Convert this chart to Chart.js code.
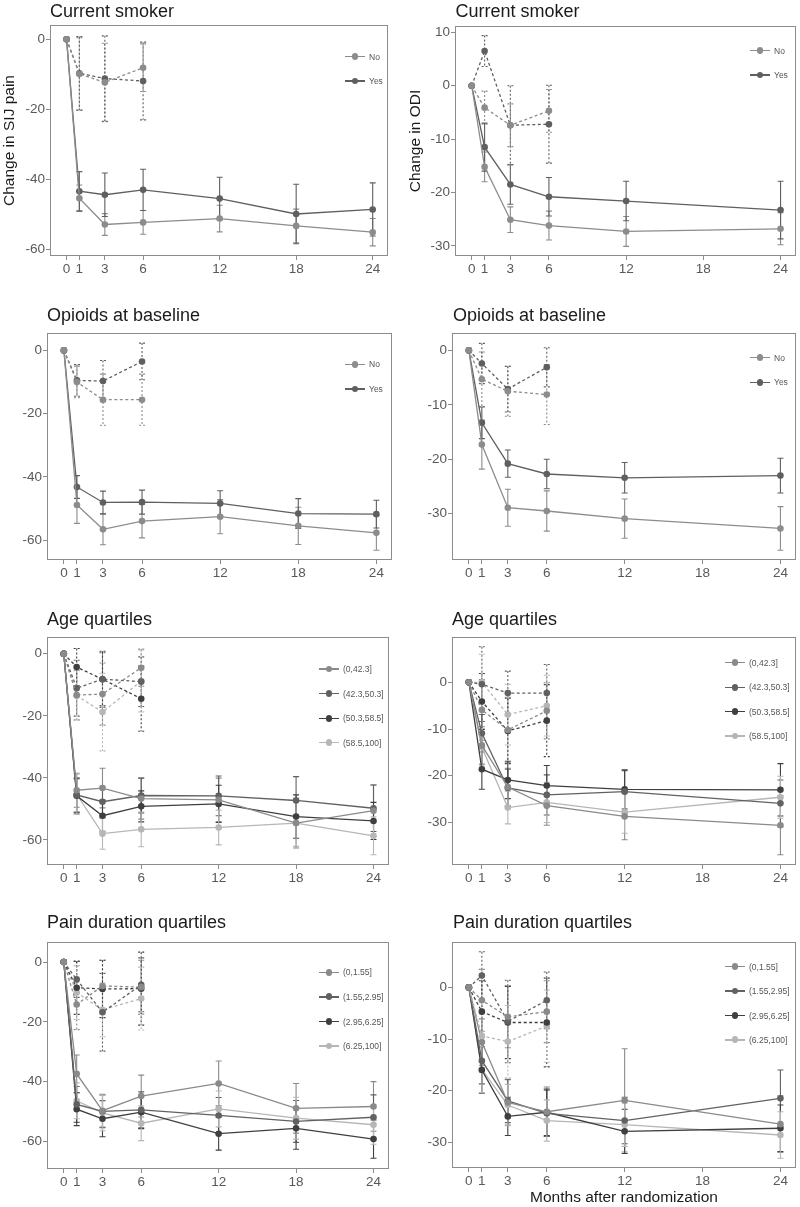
<!DOCTYPE html>
<html>
<head>
<meta charset="utf-8">
<script src="https://cdn.jsdelivr.net/npm/chart.js@4.4.1/dist/chart.umd.min.js"></script>
<style>
  body { margin: 0; background: #fff; font-family: "Liberation Sans", Arial, sans-serif; }
  #page { position: relative; width: 800px; height: 1207px; overflow: hidden; }
  #page canvas { position: absolute; }
  .title { position: absolute; font-size: 18px; line-height: 18px; color: #1a1a1a; white-space: nowrap; }
  .key { position: absolute; height: 12px; display: flex; align-items: center; font-size: 8.5px; color: #555; white-space: nowrap; }
  .key i { position: relative; display: inline-block; width: 20px; height: 12px; margin-right: 4px; }
  .key i:before { content: ""; position: absolute; left: 0; right: 0; top: 5.4px; height: 1.3px; background: currentColor; }
  .key i:after { content: ""; position: absolute; left: 6.6px; top: 2.6px; width: 6.8px; height: 6.8px; border-radius: 50%; background: currentColor; }
</style>
</head>
<body>
<div id="page"></div>
<script>
// months after randomization
const monthsSij = [0, 1, 3, 6, 12, 18, 24];
const monthsOdi = [0, 1, 3, 6, 12, 24];
const monthsCtl = [0, 1, 3, 6];
const xTicks = [0, 1, 3, 6, 12, 18, 24];

// y tick labels
const yTicksSij = [-60, -40, -20, 0];
const yTicksOdiTop = [-30, -20, -10, 0, 10];
const yTicksOdi = [-30, -20, -10, 0];

// groups
const yesNo = ['No', 'Yes'];
const ageGroups = ['(0,42.3]', '(42.3,50.3]', '(50.3,58.5]', '(58.5,100]'];
const durationGroups = ['(0,1.55]', '(1.55,2.95]', '(2.95,6.25]', '(6.25,100]'];

// Current smoker - SIJ pain (solid = treated, dashed = control)
const smokeSijTrt = [
  [0, -45.4, -52.9, -52.3, -51.2, -53.3, -55.1],
  [0, -43.4, -44.4, -43.0, -45.5, -49.9, -48.6]
];
const smokeSijTrtSe = [
  [0, 3.8, 3.1, 3.4, 3.8, 4.8, 3.9],
  [0, 5.6, 6.2, 5.9, 6.1, 8.5, 7.6]
];
const smokeSijCtl = [
  [0, -9.9, -12.3, -8.1],
  [0, -9.7, -11.2, -11.9]
];
const smokeSijCtlSe = [
  [0, 10.4, 11.2, 6.8],
  [0, 10.5, 12.2, 11.1]
];

// Current smoker - ODI
const smokeOdiTrt = [
  [0, -15.2, -25.1, -26.2, -27.3, -26.8],
  [0, -11.5, -18.5, -20.8, -21.6, -23.3]
];
const smokeOdiTrtSe = [
  [0, 2.8, 2.4, 2.7, 2.8, 3.0],
  [0, 4.5, 3.7, 3.6, 3.7, 5.4]
];
const smokeOdiCtl = [
  [0, -4.1, -7.4, -4.7],
  [0, 6.5, -7.4, -7.2]
];
const smokeOdiCtlSe = [
  [0, 3.1, 4.0, 4.0],
  [0, 2.9, 7.4, 7.3]
];

// Opioids at baseline - SIJ pain
const opioidSijTrt = [
  [0, -48.9, -56.6, -54.0, -52.6, -55.5, -57.7],
  [0, -43.2, -48.1, -48.0, -48.4, -51.6, -51.8]
];
const opioidSijTrtSe = [
  [0, 5.8, 4.9, 5.3, 5.4, 5.9, 5.5],
  [0, 3.6, 3.6, 3.8, 4.0, 4.7, 4.4]
];
const opioidSijCtl = [
  [0, -10.0, -15.6, -15.6],
  [0, -9.5, -9.7, -3.5]
];
const opioidSijCtlSe = [
  [0, 5.0, 8.1, 8.1],
  [0, 5.0, 6.5, 5.8]
];

// Opioids at baseline - ODI
const opioidOdiTrt = [
  [0, -17.3, -28.9, -29.5, -30.9, -32.7],
  [0, -13.3, -20.8, -22.7, -23.4, -23.0]
];
const opioidOdiTrtSe = [
  [0, 4.5, 3.4, 3.7, 3.6, 4.0],
  [0, 2.9, 2.5, 2.7, 2.8, 3.2]
];
const opioidOdiCtl = [
  [0, -5.3, -7.5, -8.1],
  [0, -2.4, -7.1, -3.1]
];
const opioidOdiCtlSe = [
  [0, 5.0, 4.6, 5.5],
  [0, 3.7, 4.2, 3.6]
];

// Age quartiles - SIJ pain
const ageSijTrt = [
  [0, -44.0, -43.3, -46.7, -47.1, -54.6, -50.6],
  [0, -45.5, -47.7, -45.7, -45.8, -47.3, -49.8],
  [0, -45.8, -52.2, -49.2, -48.4, -52.5, -53.9],
  [0, -45.3, -58.0, -56.6, -56.0, -54.6, -58.7]
];
const ageSijTrtSe = [
  [0, 5.5, 6.4, 6.6, 7.0, 8.0, 8.3],
  [0, 5.5, 5.0, 5.6, 6.4, 7.7, 7.5],
  [0, 5.5, 5.0, 5.0, 6.0, 7.0, 6.0],
  [0, 6.5, 5.0, 5.6, 5.6, 7.5, 6.1]
];
const ageSijCtl = [
  [0, -13.3, -13.0, -4.5],
  [0, -11.1, -8.2, -9.0],
  [0, -4.3, -8.2, -14.5],
  [0, -13.5, -18.8, -8.8]
];
const ageSijCtlSe = [
  [0, 8.0, 10.0, 6.0],
  [0, 9.0, 8.5, 8.0],
  [0, 6.0, 9.0, 10.5],
  [0, 8.0, 12.5, 10.0]
];

// Age quartiles - ODI
const ageOdiTrt = [
  [0, -13.5, -22.4, -26.4, -28.7, -30.6],
  [0, -10.9, -22.6, -24.1, -23.4, -25.9],
  [0, -18.6, -20.9, -22.1, -22.9, -23.0],
  [0, -13.9, -26.8, -25.7, -27.8, -24.6]
];
const ageOdiTrtSe = [
  [0, 4.0, 4.0, 4.2, 5.0, 6.3],
  [0, 4.0, 4.0, 4.3, 4.5, 5.0],
  [0, 4.3, 4.0, 4.3, 4.2, 5.6],
  [0, 4.0, 3.5, 4.3, 4.5, 4.5]
];
const ageOdiCtl = [
  [0, -5.9, -10.2, -6.1],
  [0, -0.4, -2.3, -2.3],
  [0, -4.1, -10.4, -8.2],
  [0, 0.0, -6.9, -5.0]
];
const ageOdiCtlSe = [
  [0, 6.5, 7.0, 6.0],
  [0, 8.0, 4.7, 6.1],
  [0, 6.0, 7.0, 7.7],
  [0, 6.0, 6.5, 6.5]
];

// Pain duration quartiles - SIJ pain
const durSijTrt = [
  [0, -37.4, -49.7, -44.8, -40.6, -48.9, -48.3],
  [0, -47.6, -49.9, -49.4, -51.3, -53.3, -51.9],
  [0, -49.2, -52.4, -50.2, -57.4, -55.6, -59.2],
  [0, -46.4, -50.4, -53.9, -49.1, -52.2, -54.4]
];
const durSijTrtSe = [
  [0, 6.3, 5.5, 7.0, 7.5, 8.3, 8.3],
  [0, 6.0, 5.5, 6.0, 6.0, 7.0, 7.5],
  [0, 5.5, 6.0, 5.5, 5.5, 7.0, 6.4],
  [0, 6.0, 6.0, 5.8, 6.0, 7.0, 6.5]
];
const durSijCtl = [
  [0, -14.2, -8.0, -8.4],
  [0, -5.8, -16.8, -7.6],
  [0, -8.6, -9.0, -8.9],
  [0, -10.2, -16.0, -12.2]
];
const durSijCtlSe = [
  [0, 8.4, 8.6, 9.0],
  [0, 6.0, 13.0, 9.0],
  [0, 8.9, 9.6, 12.2],
  [0, 9.0, 9.0, 10.5]
];

// Pain duration quartiles - ODI
const durOdiTrt = [
  [0, -10.6, -22.3, -24.1, -21.9, -26.5],
  [0, -14.2, -22.0, -24.4, -25.8, -21.5],
  [0, -16.0, -25.0, -24.2, -27.9, -27.3],
  [0, -15.9, -22.8, -25.8, -26.6, -28.6]
];
const durOdiTrtSe = [
  [0, 4.5, 4.4, 4.8, 10.0, 5.5],
  [0, 4.5, 4.2, 4.5, 4.5, 5.5],
  [0, 4.5, 3.7, 4.5, 4.3, 4.5],
  [0, 4.5, 4.0, 4.0, 4.2, 4.5]
];
const durOdiCtl = [
  [0, -2.5, -5.7, -4.7],
  [0, 2.3, -6.6, -2.5],
  [0, -4.7, -6.8, -6.8],
  [0, -9.4, -10.5, -7.5]
];
const durOdiCtlSe = [
  [0, 6.0, 6.0, 6.0],
  [0, 4.6, 8.0, 5.5],
  [0, 6.0, 7.0, 8.6],
  [0, 7.0, 7.0, 7.0]
];

const greys2 = ['#8c8c8c', '#5f5f5f'];
const greys4 = ['#8a8a8a', '#616161', '#3f3f3f', '#b6b6b6'];
const family = '"Liberation Sans", Arial, sans-serif';
const tickColor = '#595959';
const frameColor = '#8c8c8c';

// draws mean +/- se bars using the chart scales
const errorBars = {
  id: 'errorBars',
  beforeDatasetsDraw(chart) {
    const { ctx, scales: { x, y } } = chart;
    ctx.save();
    chart.data.datasets.forEach(ds => {
      if (!ds.se) return;
      ctx.strokeStyle = ds.borderColor;
      ctx.lineWidth = 1.1;
      ctx.setLineDash(ds.borderDash ? [2, 2] : []);
      ds.data.forEach((pt, j) => {
        const e = ds.se[j];
        if (!e) return;
        const px = x.getPixelForValue(pt.x);
        const hi = y.getPixelForValue(pt.y + e);
        const lo = y.getPixelForValue(pt.y - e);
        ctx.beginPath();
        ctx.moveTo(px, hi); ctx.lineTo(px, lo);
        ctx.moveTo(px - 3, hi); ctx.lineTo(px + 3, hi);
        ctx.moveTo(px - 3, lo); ctx.lineTo(px + 3, lo);
        ctx.stroke();
      });
    });
    ctx.restore();
  }
};

// panel border
const frame = {
  id: 'frame',
  afterDraw(chart) {
    const { ctx, chartArea: a } = chart;
    ctx.save();
    ctx.strokeStyle = frameColor;
    ctx.lineWidth = 1;
    ctx.strokeRect(a.left + 0.5, a.top + 0.5, a.width - 1, a.height - 1);
    ctx.restore();
  }
};

const panels = [
  { title: 'Current smoker', row: 0, col: 0, top: 25, yw: 50, right: 12, xh: 44, yMin: -61.9, yMax: 4.1, yTicks: yTicksSij,
    months: monthsSij, groups: yesNo, colors: greys2, trt: smokeSijTrt, trtSe: smokeSijTrtSe, ctl: smokeSijCtl, ctlSe: smokeSijCtlSe,
    yTitle: 'Change in SIJ pain', yTitlePad: 0, titleLeft: 50, titleBase: 17, key: [345, 56.7, 24.3] },
  { title: 'Current smoker', row: 0, col: 1, top: 26, yw: 55, right: 4, xh: 44, yMin: -31.9, yMax: 11.2, yTicks: yTicksOdiTop,
    months: monthsOdi, groups: yesNo, colors: greys2, trt: smokeOdiTrt, trtSe: smokeOdiTrtSe, ctl: smokeOdiCtl, ctlSe: smokeOdiCtlSe,
    yTitle: 'Change in ODI', yTitlePad: 6.5, titleLeft: 455.5, titleBase: 17, key: [750, 50.7, 24.3] },
  { title: 'Opioids at baseline', row: 1, col: 0, top: 33, yw: 47, right: 8, xh: 40, yMin: -66.3, yMax: 5.5, yTicks: yTicksSij,
    months: monthsSij, groups: yesNo, colors: greys2, trt: opioidSijTrt, trtSe: opioidSijTrtSe, ctl: opioidSijCtl, ctlSe: opioidSijCtlSe,
    titleLeft: 47, titleBase: 320.7, key: [345, 364.3, 24.7] },
  { title: 'Opioids at baseline', row: 1, col: 1, top: 33, yw: 52, right: 3, xh: 40, yMin: -38.5, yMax: 3.2, yTicks: yTicksOdi,
    months: monthsOdi, groups: yesNo, colors: greys2, trt: opioidOdiTrt, trtSe: opioidOdiTrtSe, ctl: opioidOdiCtl, ctlSe: opioidOdiCtlSe,
    titleLeft: 453, titleBase: 320.7, key: [750, 357.7, 24.6] },
  { title: 'Age quartiles', row: 2, col: 0, top: 37, yw: 47, right: 11, xh: 35, yMin: -68.1, yMax: 5.4, yTicks: yTicksSij,
    months: monthsSij, groups: ageGroups, colors: greys4, trt: ageSijTrt, trtSe: ageSijTrtSe, ctl: ageSijCtl, ctlSe: ageSijCtlSe,
    titleLeft: 47, titleBase: 625, key: [319, 669, 24.6] },
  { title: 'Age quartiles', row: 2, col: 1, top: 37, yw: 52, right: 4, xh: 35, yMin: -39.1, yMax: 9.7, yTicks: yTicksOdi,
    months: monthsOdi, groups: ageGroups, colors: greys4, trt: ageOdiTrt, trtSe: ageOdiTrtSe, ctl: ageOdiCtl, ctlSe: ageOdiCtlSe,
    titleLeft: 452, titleBase: 625, key: [725, 662.7, 24.45] },
  { title: 'Pain duration quartiles', row: 3, col: 0, top: 42, yw: 47, right: 11, xh: 38, yMin: -69.2, yMax: 6.7, yTicks: yTicksSij,
    months: monthsSij, groups: durationGroups, colors: greys4, trt: durSijTrt, trtSe: durSijTrtSe, ctl: durSijCtl, ctlSe: durSijCtlSe,
    titleLeft: 47, titleBase: 928.3, key: [319, 972.3, 24.6] },
  { title: 'Pain duration quartiles', row: 3, col: 1, top: 42, yw: 52, right: 4, xh: 39, yMin: -35.0, yMax: 8.8, yTicks: yTicksOdi,
    months: monthsOdi, groups: durationGroups, colors: greys4, trt: durOdiTrt, trtSe: durOdiTrtSe, ctl: durOdiCtl, ctlSe: durOdiCtlSe,
    xTitle: 'Months after randomization', titleLeft: 453, titleBase: 928.3, key: [725, 966.7, 24.4] }
];

const page = document.getElementById('page');

function series(label, months, values, se, color, dashed) {
  return {
    label,
    data: months.map((m, i) => ({ x: m, y: values[i] })),
    se,
    borderColor: color,
    backgroundColor: color,
    borderWidth: 1.3,
    borderDash: dashed ? [3, 2.5] : undefined,
    pointRadius: 3.3,
    pointBorderWidth: 0,
    pointBackgroundColor: color,
    tension: 0,
    fill: false
  };
}

panels.forEach(p => {
  const cv = document.createElement('canvas');
  cv.width = 400;
  cv.height = p.row === 3 ? 307 : 300;
  cv.style.left = p.col * 400 + 'px';
  cv.style.top = p.row * 300 + 'px';
  page.appendChild(cv);

  const t = document.createElement('div');
  t.className = 'title';
  t.textContent = p.title;
  t.style.left = p.titleLeft + 'px';
  t.style.top = (p.titleBase - 15.2) + 'px';
  page.appendChild(t);

  p.groups.forEach((g, i) => {
    const k = document.createElement('div');
    k.className = 'key';
    k.style.left = p.key[0] + 'px';
    k.style.top = (p.key[1] + i * p.key[2] - 6) + 'px';
    const sw = document.createElement('i');
    sw.style.color = p.colors[i];
    k.appendChild(sw);
    k.appendChild(document.createTextNode(g));
    page.appendChild(k);
  });

  const datasets = [];
  p.groups.forEach((g, i) => datasets.push(series(g, monthsCtl, p.ctl[i], p.ctlSe[i], p.colors[i], true)));
  p.groups.forEach((g, i) => datasets.push(series(g, p.months, p.trt[i], p.trtSe[i], p.colors[i], false)));

  new Chart(cv, {
    type: 'line',
    data: { datasets },
    options: {
      responsive: false,
      animation: false,
      layout: { padding: { left: 0, top: p.top, right: p.right, bottom: 0 } },
      plugins: { legend: { display: false }, tooltip: { enabled: false } },
      scales: {
        x: {
          type: 'linear',
          min: -1.3,
          max: 25.2,
          afterBuildTicks: s => { s.ticks = xTicks.map(v => ({ value: v })); },
          afterFit: s => { s.height = p.xh; },
          ticks: { color: tickColor, font: { size: 13.5, family }, padding: 1, autoSkip: false, maxRotation: 0, callback: v => String(v) },
          grid: { drawOnChartArea: false, tickLength: 4, color: frameColor },
          border: { display: false },
          title: {
            display: !!p.xTitle,
            text: p.xTitle || '',
            color: '#1a1a1a',
            font: { size: 15.5, family },
            padding: { top: 1, bottom: 0 }
          }
        },
        y: {
          min: p.yMin,
          max: p.yMax,
          afterBuildTicks: s => { s.ticks = p.yTicks.map(v => ({ value: v })); },
          afterFit: s => { s.width = p.yw; },
          ticks: { color: tickColor, font: { size: 13.5, family }, padding: 1, callback: v => String(v) },
          grid: { drawOnChartArea: false, tickLength: 4, color: frameColor },
          border: { display: false },
          title: {
            display: !!p.yTitle,
            text: p.yTitle || '',
            color: '#1a1a1a',
            font: { size: 15.5, family },
            padding: { top: p.yTitlePad || 0, bottom: 0 }
          }
        }
      }
    },
    plugins: [errorBars, frame]
  });
});
</script>
</body>
</html>
